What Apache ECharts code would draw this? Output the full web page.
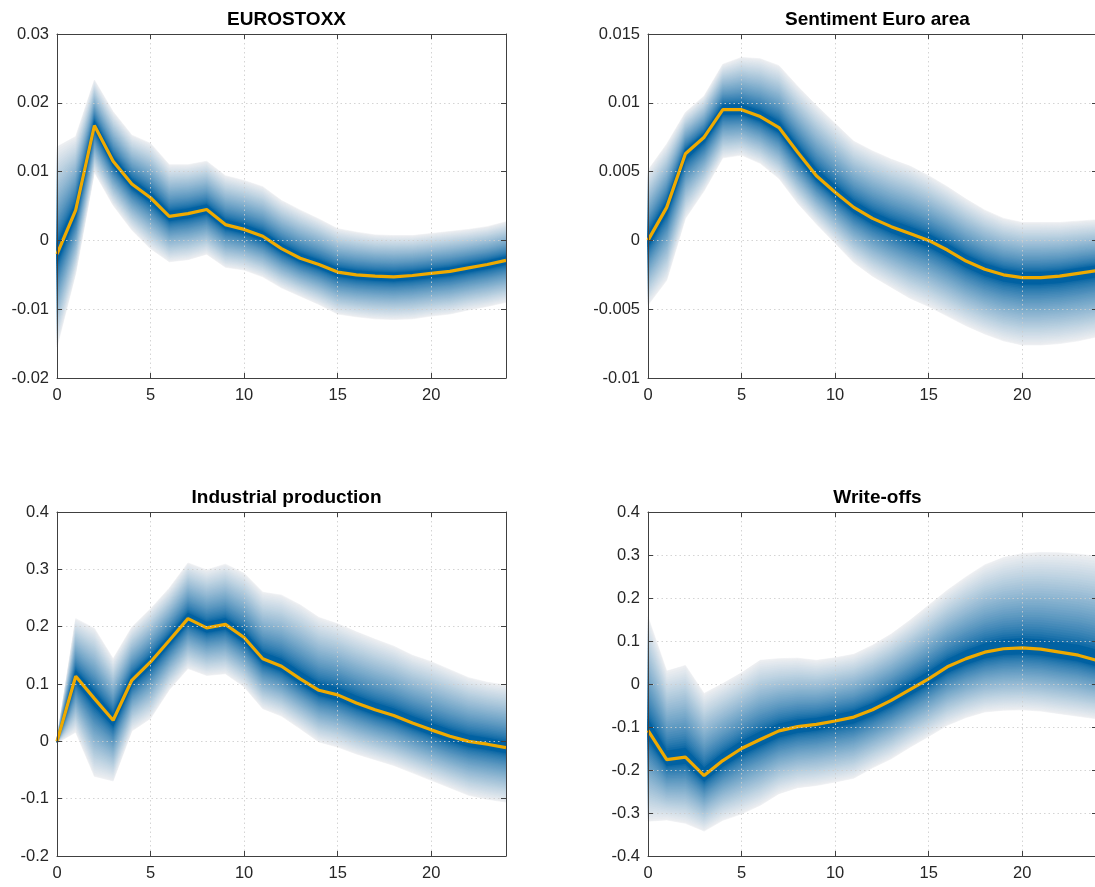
<!DOCTYPE html>
<html>
<head>
<meta charset="utf-8">
<title>Impulse responses</title>
<script src="https://cdn.jsdelivr.net/npm/echarts@6/dist/echarts.min.js"></script>
<style>
    html, body { margin: 0; padding: 0; background: #fff; }
    #main { width: 1095px; height: 887px; }
</style>
</head>
<body>
<div id="main"></div>
<script>
// horizons (months after the shock)
var horizons = [0, 1, 2, 3, 4, 5, 6, 7, 8, 9, 10, 11, 12, 13, 14, 15, 16, 17, 18, 19, 20, 21, 22, 23, 24];

// EUROSTOXX: median and outer band
var eurostoxxMedian = [-0.0020, 0.0044, 0.0167, 0.0115, 0.0082, 0.0062, 0.0035, 0.0039, 0.0045, 0.0023, 0.0016, 0.0006, -0.0012,
    -0.0026, -0.0035, -0.0046, -0.0050, -0.0052, -0.0053, -0.0051, -0.0048, -0.0045, -0.0040, -0.0035, -0.0029];
var eurostoxxUpper = [0.0136, 0.0151, 0.0233, 0.0187, 0.0153, 0.0141, 0.0110, 0.0110, 0.0115, 0.0094, 0.0087, 0.0078, 0.0058,
    0.0044, 0.0031, 0.0017, 0.0012, 0.0008, 0.0007, 0.0007, 0.0010, 0.0013, 0.0016, 0.0020, 0.0027];
var eurostoxxLower = [-0.0155, -0.0048, 0.0099, 0.0051, 0.0015, -0.0012, -0.0031, -0.0028, -0.0020, -0.0039, -0.0043, -0.0053, -0.0069,
    -0.0081, -0.0093, -0.0107, -0.0111, -0.0114, -0.0115, -0.0114, -0.0110, -0.0107, -0.0101, -0.0096, -0.0090];

// Sentiment Euro area
var sentimentMedian = [0.0000, 0.0024, 0.0063, 0.0075, 0.0095, 0.0095, 0.0090, 0.0082, 0.0064, 0.0047, 0.0035, 0.0024, 0.0016,
    0.0010, 0.0005, 0.0000, -0.0007, -0.0015, -0.0021, -0.0025, -0.0027, -0.0027, -0.0026, -0.0024, -0.0022];
var sentimentUpper = [0.0051, 0.0070, 0.0093, 0.0105, 0.0128, 0.0133, 0.0132, 0.0127, 0.0112, 0.0098, 0.0085, 0.0072, 0.0065,
    0.0059, 0.0054, 0.0047, 0.0039, 0.0030, 0.0022, 0.0016, 0.0013, 0.0013, 0.0013, 0.0014, 0.0015];
var sentimentLower = [-0.0047, -0.0029, 0.0016, 0.0036, 0.0060, 0.0062, 0.0056, 0.0045, 0.0027, 0.0012, -0.0002, -0.0016, -0.0026,
    -0.0034, -0.0042, -0.0048, -0.0055, -0.0062, -0.0068, -0.0073, -0.0076, -0.0076, -0.0075, -0.0073, -0.0070];

// Industrial production
var industryMedian = [0.000, 0.1135, 0.0745, 0.0367, 0.1065, 0.1385, 0.176, 0.214, 0.198, 0.204, 0.181, 0.144, 0.131,
    0.109, 0.089, 0.081, 0.067, 0.055, 0.045, 0.032, 0.020, 0.009, 0.000, -0.005, -0.011];
var industryUpper = [0.004, 0.214, 0.197, 0.144, 0.199, 0.231, 0.267, 0.311, 0.299, 0.309, 0.293, 0.260, 0.255,
    0.238, 0.216, 0.205, 0.191, 0.178, 0.166, 0.150, 0.139, 0.125, 0.111, 0.103, 0.098];
var industryLower = [-0.003, 0.016, -0.061, -0.069, 0.018, 0.040, 0.090, 0.127, 0.115, 0.118, 0.095, 0.057, 0.044,
    0.022, -0.001, -0.010, -0.022, -0.032, -0.042, -0.055, -0.068, -0.081, -0.094, -0.101, -0.106];

// Write-offs
var writeoffMedian = [-0.108, -0.176, -0.170, -0.213, -0.178, -0.150, -0.129, -0.109, -0.099, -0.094, -0.086, -0.077, -0.060,
    -0.038, -0.013, 0.012, 0.040, 0.059, 0.074, 0.082, 0.084, 0.081, 0.074, 0.067, 0.055];
var writeoffUpper = [0.156, 0.030, 0.043, -0.022, 0.001, 0.026, 0.055, 0.059, 0.060, 0.055, 0.061, 0.069, 0.090,
    0.116, 0.148, 0.183, 0.218, 0.249, 0.277, 0.294, 0.303, 0.306, 0.305, 0.302, 0.297];
var writeoffLower = [-0.319, -0.316, -0.324, -0.342, -0.317, -0.302, -0.282, -0.255, -0.241, -0.236, -0.228, -0.219, -0.195,
    -0.174, -0.147, -0.122, -0.096, -0.078, -0.065, -0.061, -0.060, -0.063, -0.069, -0.075, -0.081];

var panelTitles = ['EUROSTOXX', 'Sentiment Euro area', 'Industrial production', 'Write-offs'];

var dom = document.getElementById('main');
var myChart = echarts.init(dom, null, {renderer: 'canvas'});

var FONT = 'Liberation Sans, Arial, Helvetica, sans-serif';
var AXIS_COLOR = '#404040';
var LEVELS = 40;            // number of shading steps inside the band
var DARK = [2, 98, 162];    // blue at the median
var LIGHT = [236, 238, 241];// grey at the band edge

// colour of a shading step; f = 1 at the band edge, 0 at the median
function shade(f) {
    var g = Math.pow(Math.min(1, Math.max(0, (f - 0.1) / 0.9)), 0.75);
    var c = DARK.map(function (d, i) { return Math.round(d + (LIGHT[i] - d) * g); });
    return 'rgb(' + c.join(',') + ')';
}

function fmt(v) {
    var s = parseFloat(v.toFixed(4)).toString();
    return s === '-0' ? '0' : s;
}

var panels = [
    {med: eurostoxxMedian, hi: eurostoxxUpper, lo: eurostoxxLower, yMin: -0.02, yMax: 0.03, yStep: 0.01, left: 57, top: 34},
    {med: sentimentMedian, hi: sentimentUpper, lo: sentimentLower, yMin: -0.01, yMax: 0.015, yStep: 0.005, left: 648, top: 34},
    {med: industryMedian, hi: industryUpper, lo: industryLower, yMin: -0.2, yMax: 0.4, yStep: 0.1, left: 57, top: 512},
    {med: writeoffMedian, hi: writeoffUpper, lo: writeoffLower, yMin: -0.4, yMax: 0.4, yStep: 0.1, left: 648, top: 512}
];
var PW = 449, PH = 344;

var shadeLevels = [];
for (var k = 0; k < LEVELS; k++) shadeLevels.push(k);

var option = {
    backgroundColor: '#ffffff',
    animation: false,
    title: [],
    grid: [],
    xAxis: [],
    yAxis: [],
    series: []
};

panels.forEach(function (p, i) {
    option.title.push({
        text: panelTitles[i],
        left: p.left + PW / 2,
        top: p.top - 29,
        textAlign: 'center',
        textStyle: {fontFamily: FONT, fontSize: 19, fontWeight: 'bold', color: '#000'}
    });
    option.grid.push({left: p.left, top: p.top, width: PW, height: PH, containLabel: false, outerBoundsMode: 'none'});

    var tickStyle = {show: true, inside: true, length: 5, lineStyle: {color: AXIS_COLOR}};
    var gridLine = {show: true, lineStyle: {color: 'rgba(205,205,205,0.85)', width: 1, type: [1.5, 3]}};
    // bottom / left axes carry the labels
    option.xAxis.push({
        type: 'value', gridIndex: i, min: 0, max: 24, interval: 5, position: 'bottom', z: 6,
        axisLine: {show: true, onZero: false, lineStyle: {color: AXIS_COLOR}},
        axisTick: tickStyle,
        splitLine: {show: false},
        axisLabel: {fontFamily: FONT, fontSize: 16.5, color: '#262626', margin: 9,
            formatter: function (v) { return v % 5 === 0 ? String(v) : ''; }}
    });
    option.yAxis.push({
        type: 'value', gridIndex: i, min: p.yMin, max: p.yMax, interval: p.yStep, position: 'left', z: 6,
        axisLine: {show: true, onZero: false, lineStyle: {color: AXIS_COLOR}},
        axisTick: tickStyle,
        splitLine: {show: false},
        axisLabel: {fontFamily: FONT, fontSize: 16.5, color: '#262626', margin: 8, formatter: fmt}
    });
    // top / right axes close the box and draw the dotted grid above the fan
    option.xAxis.push({
        type: 'value', gridIndex: i, min: 0, max: 24, interval: 5, position: 'top', z: 5,
        axisLine: {show: true, onZero: false, lineStyle: {color: AXIS_COLOR}},
        axisTick: tickStyle,
        axisLabel: {show: false},
        splitLine: gridLine
    });
    option.yAxis.push({
        type: 'value', gridIndex: i, min: p.yMin, max: p.yMax, interval: p.yStep, position: 'right', z: 5,
        axisLine: {show: true, onZero: false, lineStyle: {color: AXIS_COLOR}},
        axisTick: tickStyle,
        axisLabel: {show: false},
        splitLine: gridLine
    });

    // fan: outer band first, darker inner bands on top
    option.series.push({
        type: 'custom',
        xAxisIndex: i * 2,
        yAxisIndex: i * 2,
        z: 2,
        silent: true,
        data: shadeLevels.map(function (k) { return [0, 0, k]; }),
        encode: {x: 0, y: 1},
        renderItem: function (params, api) {
            var f = 1 - params.dataIndex / LEVELS;
            var upperPts = [], lowerPts = [];
            for (var t = 0; t < horizons.length; t++) {
                var m = p.med[t];
                upperPts.push(api.coord([horizons[t], m + f * (p.hi[t] - m)]));
                lowerPts.push(api.coord([horizons[t], m + f * (p.lo[t] - m)]));
            }
            var col = shade(f);
            return {
                type: 'polygon',
                shape: {points: upperPts.concat(lowerPts.reverse())},
                style: {fill: col, stroke: col, lineWidth: 0.6}
            };
        }
    });

    // median response
    option.series.push({
        type: 'line',
        xAxisIndex: i * 2,
        yAxisIndex: i * 2,
        z: 4,
        silent: true,
        symbol: 'none',
        clip: false,
        data: horizons.map(function (h, t) { return [h, p.med[t]]; }),
        lineStyle: {color: '#EFAA00', width: 3.2}
    });
});

option && myChart.setOption(option);

window.onresize = function () {
    myChart.resize();
};
</script>
</body>
</html>
